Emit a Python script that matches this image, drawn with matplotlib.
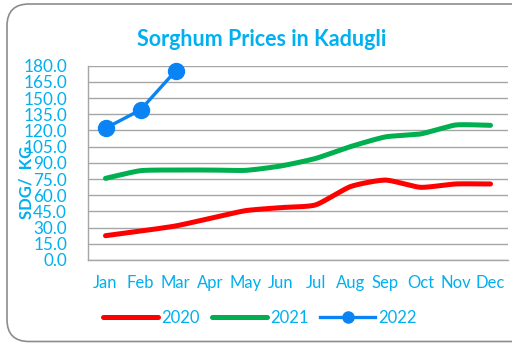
import numpy as np
import matplotlib
matplotlib.use("Agg")
import matplotlib.pyplot as plt
from matplotlib.patches import FancyBboxPatch
from matplotlib.lines import Line2D
from matplotlib.transforms import IdentityTransform

months = ["Jan", "Feb", "Mar", "Apr", "May", "Jun", "Jul", "Aug", "Sep", "Oct", "Nov", "Dec"]
prices_2020 = [22.5, 26.8, 31.5, 38.6, 45.7, 48.5, 51.0, 68.0, 74.0, 67.3, 70.4, 70.4]
prices_2021 = [75.6, 82.7, 83.3, 83.3, 83.0, 87.0, 94.0, 105.0, 114.0, 116.7, 125.0, 124.7]
prices_2022 = [122.0, 139.0, 175.0]
y_ticks = np.arange(0, 181, 15)

TXT = "#00B0F0"
C2020 = "#FF0000"
C2021 = "#00B050"
C2022 = "#0A84F5"
GRID = "#A6A6A6"

plt.rcParams["font.family"] = ["Lato", "DejaVu Sans"]


def smooth(xs, ys, n=24):
    """Catmull-Rom style smoothing through every point."""
    xs = np.asarray(xs, float)
    ys = np.asarray(ys, float)
    px = np.concatenate([[2 * xs[0] - xs[1]], xs, [2 * xs[-1] - xs[-2]]])
    py = np.concatenate([[2 * ys[0] - ys[1]], ys, [2 * ys[-1] - ys[-2]]])
    ox, oy = [], []
    for i in range(1, len(px) - 2):
        t = np.linspace(0, 1, n, endpoint=False)
        for p, out in ((px, ox), (py, oy)):
            p0, p1, p2, p3 = p[i - 1], p[i], p[i + 1], p[i + 2]
            m1 = (p2 - p0) / 2 * 0.6
            m2 = (p3 - p1) / 2 * 0.6
            h00 = 2 * t**3 - 3 * t**2 + 1
            h10 = t**3 - 2 * t**2 + t
            h01 = -2 * t**3 + 3 * t**2
            h11 = t**3 - t**2
            out.extend(h00 * p1 + h10 * m1 + h01 * p2 + h11 * m2)
    ox.append(xs[-1])
    oy.append(ys[-1])
    return np.array(ox), np.array(oy)


fig = plt.figure(figsize=(5.12, 3.43), dpi=100)
fig.patch.set_facecolor("white")

# rounded chart frame, in pixel units; its right side runs past the canvas
border = FancyBboxPatch((7, 1.5), 530, 337.5,
                        boxstyle="round,pad=0,rounding_size=22",
                        transform=IdentityTransform(), facecolor="none",
                        edgecolor="#8C8C8C", linewidth=1.2, zorder=-1)
fig.patches.append(border)

ax = fig.add_axes([88 / 512, 1 - 260 / 343, 420 / 512, 194.4 / 343])
ax.set_facecolor("none")

x = np.arange(len(months))
sx, sy = smooth(x, prices_2020)
ax.plot(sx, sy, color=C2020, lw=3.6, solid_capstyle="round", zorder=3)
sx, sy = smooth(x, prices_2021)
ax.plot(sx, sy, color=C2021, lw=3.6, solid_capstyle="round", zorder=3)
ax.plot(x[:len(prices_2022)], prices_2022, color=C2022, lw=2.4, marker="o",
        markersize=11.5, zorder=4, clip_on=False)

ax.set_xlim(-0.5, 11.5)
ax.set_ylim(0, 180)
ax.set_yticks(y_ticks)
ax.set_yticklabels([f"{v:.1f}" for v in y_ticks], color=TXT, fontsize=12.3)
ax.set_xticks(x)
ax.set_xticklabels(months, color=TXT, fontsize=12)
ax.tick_params(axis="y", length=0, pad=15)
ax.tick_params(axis="x", length=0, pad=11)
ax.grid(axis="y", color=GRID, lw=1)
ax.set_axisbelow(True)
for s in ("top", "right"):
    ax.spines[s].set_visible(False)
for s in ("left", "bottom"):
    ax.spines[s].set_color(GRID)
    ax.spines[s].set_linewidth(1)

fig.text(262 / 512, 1 - 40 / 343, "Sorghum Prices in Kadugli", color=TXT,
         fontsize=15.5, fontweight="bold", ha="center", va="center")
fig.text(26 / 512, 1 - 182 / 343, "SDG/  KG", color=TXT, fontsize=12,
         fontweight="bold", rotation=90, ha="center", va="center")

handles = [Line2D([], [], color=C2020, lw=3.6, solid_capstyle="round"),
           Line2D([], [], color=C2021, lw=3.6, solid_capstyle="round"),
           Line2D([], [], color=C2022, lw=2.4, marker="o", markersize=8)]
fig.legend(handles, ["2020", "2021", "2022"], loc="center",
           bbox_to_anchor=(260 / 512, 1 - 318 / 343), ncol=3, frameon=False,
           fontsize=12, labelcolor=TXT, handlelength=3.3, handletextpad=0.2,
           columnspacing=0.7)

fig.savefig("out.png", dpi=100)
